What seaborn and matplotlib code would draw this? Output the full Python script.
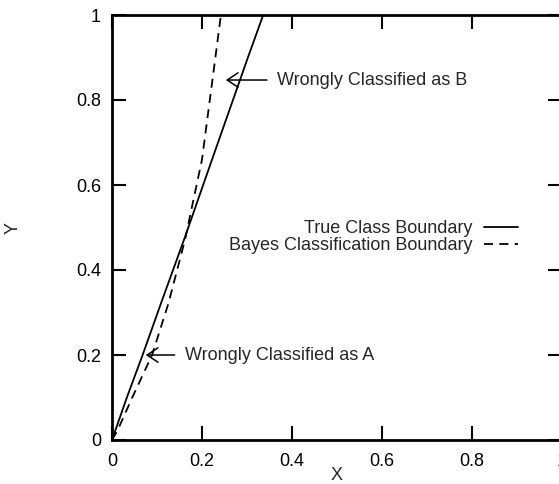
import matplotlib
matplotlib.use("Agg")
import matplotlib.pyplot as plt
import seaborn as sns

# boundary curves
true_x = [0, 0.033, 0.068, 0.11, 0.163, 0.222, 0.30, 0.336]
true_y = [0, 0.1, 0.2, 0.325, 0.48, 0.659, 0.894, 1.0]
bayes_x = [0, 0.013, 0.045, 0.089, 0.125, 0.162, 0.20, 0.229, 0.242]
bayes_y = [0, 0.024, 0.1, 0.2, 0.32, 0.47, 0.66, 0.894, 1.0]

ticks = [0, 0.2, 0.4, 0.6, 0.8, 1]
tick_labels = ["0", "0.2", "0.4", "0.6", "0.8", "1"]

sns.set_theme(style="ticks")
plt.rcParams["font.family"] = ["Liberation Sans", "DejaVu Sans"]

fig = plt.figure(figsize=(5.59, 4.84), dpi=100)
# axes run past the right edge of the figure, like the cropped original
ax = fig.add_axes([112 / 559, 44 / 484, 450 / 559, 425 / 484])

sns.lineplot(x=true_x, y=true_y, ax=ax, color="black", lw=1.3,
             sort=False, label="True Class Boundary")
sns.lineplot(x=bayes_x, y=bayes_y, ax=ax, color="black", lw=1.3,
             sort=False, label="Bayes Classification Boundary",
             linestyle=(0, (5, 3.5)))

ax.set_xlim(0, 1)
ax.set_ylim(0, 1)
ax.set_xticks(ticks)
ax.set_xticklabels(tick_labels)
ax.set_yticks(ticks)
ax.set_yticklabels(tick_labels)
ax.tick_params(direction="in", top=True, right=True, length=10, width=1.5,
               labelsize=13, colors="black")
ax.tick_params(axis="x", pad=9)
ax.tick_params(axis="y", pad=8)
for s in ax.spines.values():
    s.set_linewidth(2)
    s.set_color("black")

ax.set_xlabel("X", fontsize=13)
ax.set_ylabel("Y", fontsize=13)
ax.xaxis.set_label_coords(0.5, -0.063)
ax.yaxis.set_label_coords(-0.2, 0.5)

arrow = dict(arrowstyle="->,head_length=0.6,head_width=0.4", color="black",
             lw=1.1, shrinkA=5, shrinkB=0)
ax.annotate("Wrongly Classified as B", xy=(0.253, 0.847), xytext=(0.367, 0.847),
            va="center", ha="left", fontsize=13, arrowprops=arrow)
ax.annotate("Wrongly Classified as A", xy=(0.075, 0.2), xytext=(0.162, 0.2),
            va="center", ha="left", fontsize=13, arrowprops=arrow)

ax.legend(loc="center right", bbox_to_anchor=(0.902, 0.478), frameon=False,
          markerfirst=False, alignment="right", handlelength=1.9,
          handletextpad=0.6, labelspacing=0.0, borderpad=0, borderaxespad=0,
          fontsize=13)

fig.savefig("out.png", dpi=100)
